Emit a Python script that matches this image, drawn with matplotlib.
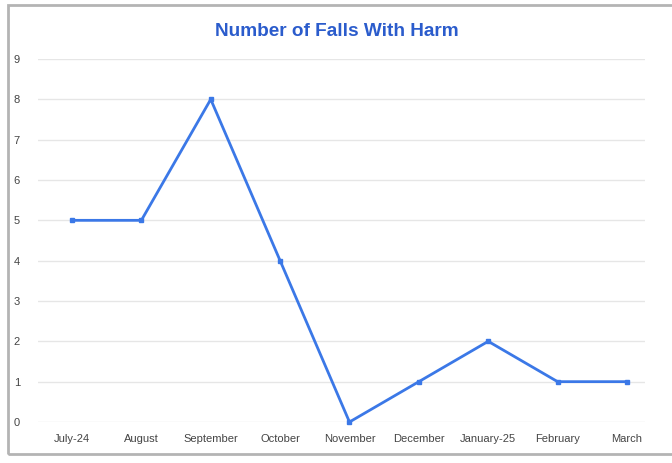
import matplotlib.pyplot as plt
from matplotlib.patches import Rectangle

months = ['July-24', 'August', 'September', 'October', 'November',
          'December', 'January-25', 'February', 'March']
falls = [5, 5, 8, 4, 0, 1, 2, 1, 1]
yticks = list(range(0, 10))

plt.rcParams['font.family'] = ['Liberation Sans', 'DejaVu Sans']

W, H = 672, 463
fig = plt.figure(figsize=(W / 100, H / 100), dpi=100)
fig.patch.set_facecolor('white')

# outer frame of the screenshot
fig.patches.append(Rectangle((8 / W, 9 / H), 1.0, (454 - 5) / H,
                             transform=fig.transFigure, fill=False,
                             edgecolor='#b4b4b4', linewidth=2))

ax = fig.add_axes([38 / W, 41 / H, (645 - 38) / W, (422 - 59) / H])
x = list(range(len(months)))
ax.plot(x, falls, color='#3b78e7', linewidth=2.0, marker='s',
        markersize=3.5, clip_on=False, zorder=3)

ax.set_xlim(-0.49, 8.26)
ax.set_ylim(0, 9)
ax.set_yticks(yticks)
ax.set_xticks(x)
ax.set_xticklabels(months)
ax.grid(axis='y', color='#e6e6e6', linewidth=1)
ax.set_axisbelow(True)
for s in ax.spines.values():
    s.set_visible(False)
ax.tick_params(axis='both', length=0, labelsize=8, colors='#444444')
ax.tick_params(axis='x', pad=9)
ax.tick_params(axis='y', pad=13)

fig.text(337 / W, 1 - 31 / H, 'Number of Falls With Harm', ha='center',
         va='center', color='#2b5ccc', fontsize=13.7, fontweight='bold')

fig.savefig('out.png', dpi=100)
